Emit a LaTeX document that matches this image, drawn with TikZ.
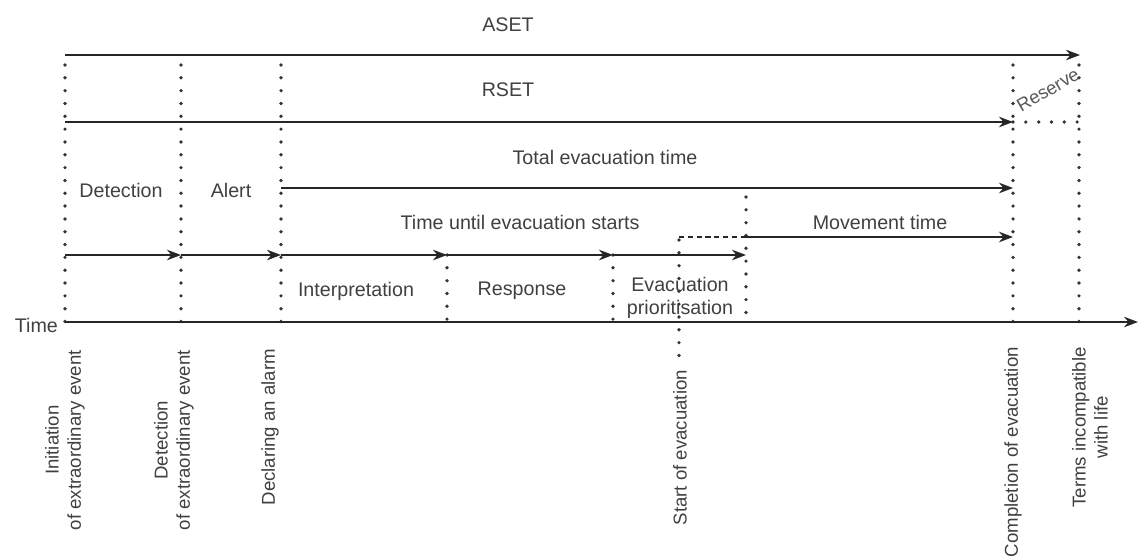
\documentclass[tikz,border=0pt]{standalone}
\usepackage{fontspec}
\setmainfont{Liberation Sans}
\usetikzlibrary{arrows.meta}

\begin{document}
\begin{tikzpicture}[x=0.02cm,y=-0.02cm,
    arr/.style={-{Stealth[length=8pt,width=6pt]},line width=1pt,black!85},
    dots/.style={line width=2.1pt,line cap=round,dash pattern=on 0pt off 7.3pt,black!80},
    lbl/.style={text=black!75,font=\fontsize{11.2}{13}\selectfont,inner sep=1pt},
    vlbl/.style={lbl,rotate=90,anchor=east,align=center,font=\fontsize{10.6}{12.6}\selectfont}]
			\useasboundingbox (0,0) rectangle (1138,558);
			% time points on the axis
			\coordinate (init) at (65,322);
			\coordinate (detect) at (181,322);
			\coordinate (alarm) at (281,322);
			\coordinate (interp) at (447,322);
			\coordinate (resp) at (613,322);
			\coordinate (start) at (679,322);
			\coordinate (prio) at (746,322);
			\coordinate (compl) at (1013,322);
			\coordinate (terms) at (1079,322);
			\coordinate (tend) at (1138,322);
			% guide lines
			\draw[dots] (65,65) -- (init);
			\draw[dots] (181,65) -- (detect);
			\draw[dots] (281,65) -- (alarm);
			\draw[dots] (1013,65) -- (compl);
			\draw[dots] (1079,65) -- (terms);
			\draw[dots] (447,255) -- (interp);
			\draw[dots] (613,255) -- (resp);
			\draw[dots] (746,197) -- (prio);
			\draw[dots] (679,240) -- (679,362);
			\draw[dots] (1013,122) -- (1079,122);
			% ASET / RSET
			\coordinate (aset0) at (65,55);
			\coordinate (aset1) at (1080,55);
			\draw[arr] (aset0) -- (aset1);
			\node[lbl] (aset) at (508,25) {ASET};
			\coordinate (rset0) at (65,122);
			\coordinate (rset1) at (1013,122);
			\draw[arr] (rset0) -- (rset1);
			\node[lbl] (rset) at (508,90) {RSET};
			\node[lbl,rotate=30,text=black!65,font=\fontsize{10.5}{12}\selectfont] (reserve) at (1048,90) {Reserve};
			% total evacuation time
			\coordinate (tot0) at (281,188);
			\coordinate (tot1) at (1013,188);
			\draw[arr] (tot0) -- (tot1);
			\node[lbl] (total) at (605,157) {Total evacuation time};
			% movement time
			\coordinate (mov0) at (746,237);
			\coordinate (mov1) at (1013,237);
			\coordinate (mov2) at (679,237);
			\draw[arr] (mov0) -- (mov1);
			\draw[line width=1pt,black!85,dash pattern=on 3pt off 2pt] (mov2) -- (mov0);
			\node[lbl] (movement) at (880,222) {Movement time};
			\node[lbl] (until) at (520,222) {Time until evacuation starts};
			% phases
			\coordinate (ph0) at (65,255);
			\coordinate (ph1) at (181,255);
			\coordinate (ph2) at (281,255);
			\coordinate (ph3) at (447,255);
			\coordinate (ph4) at (613,255);
			\coordinate (ph5) at (746,255);
			\draw[arr] (ph0) -- (ph1);
			\draw[arr] (ph1) -- (ph2);
			\draw[arr] (ph2) -- (ph3);
			\draw[arr] (ph3) -- (ph4);
			\draw[arr] (ph4) -- (ph5);
			\node[lbl] (detection) at (121,190) {Detection};
			\node[lbl] (alert) at (231,190) {Alert};
			\node[lbl] (interpretation) at (356,291) {Interpretation};
			\node[lbl] (response) at (522,291) {Response};
			\node[lbl,align=center] (evacprio) at (680,298) {Evacuation\\prioritisation};
			% time axis
			\draw[arr] (init) -- (tend);
			\node[lbl,anchor=east] (time) at (60,325) {Time};
			% event labels
			\node[vlbl] (l-init) at (65,348) {Initiation\\of extraordinary event};
			\node[vlbl] (l-detect) at (174,348) {Detection\\of extraordinary event};
			\node[vlbl] (l-alarm) at (270,347) {Declaring an alarm};
			\node[vlbl] (l-start) at (680,368) {Start of evacuation};
			\node[vlbl] (l-compl) at (1013,345) {Completion of evacuation};
			\node[vlbl] (l-terms) at (1090,345) {Terms incompatible\\with life};
		\end{tikzpicture}
\end{document}
